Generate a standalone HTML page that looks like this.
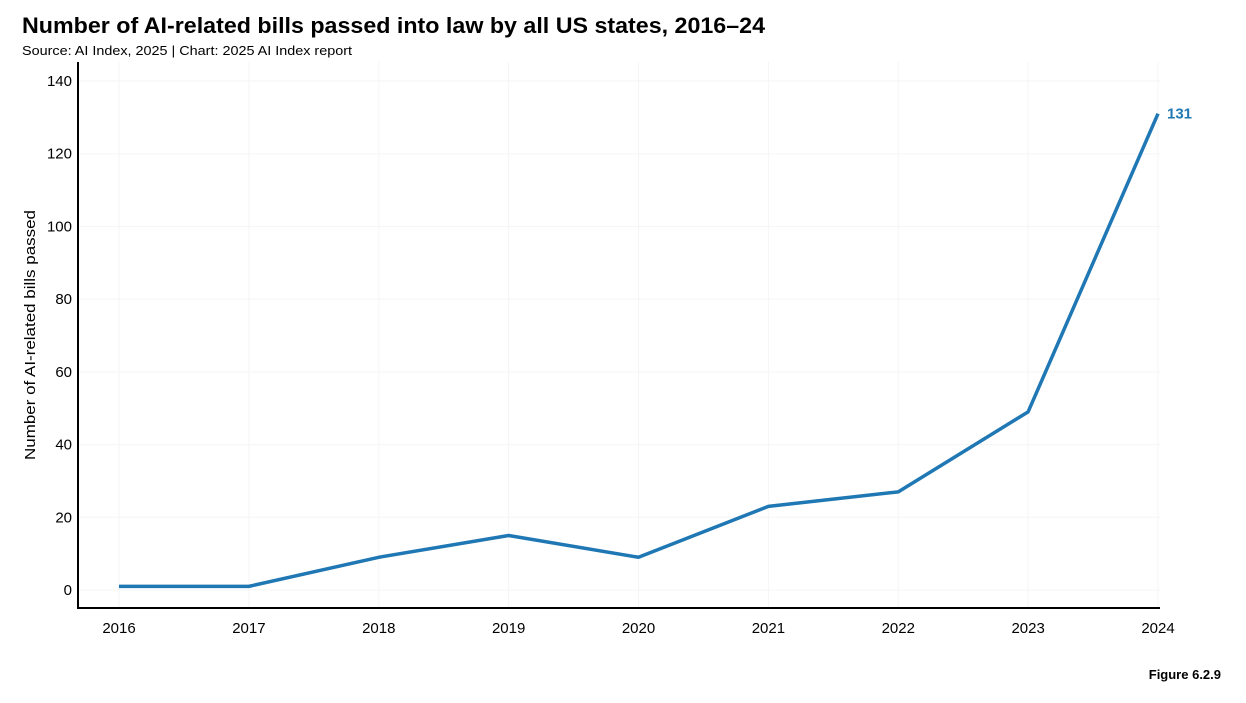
<!DOCTYPE html>
<html><head><meta charset="utf-8"><style>
body{margin:0;background:#fff;width:1246px;height:698px;overflow:hidden;font-family:"Liberation Sans",sans-serif}
</style></head><body>
<svg width="1246" height="698" xmlns="http://www.w3.org/2000/svg">
<text x="22" y="33" font-size="22" font-weight="bold" fill="#000" textLength="743" lengthAdjust="spacingAndGlyphs">Number of AI-related bills passed into law by all US states, 2016–24</text>
<text x="22" y="55" font-size="13" fill="#000" textLength="330" lengthAdjust="spacingAndGlyphs">Source: AI Index, 2025 | Chart: 2025 AI Index report</text>
<text transform="translate(35,335) rotate(-90)" text-anchor="middle" font-size="15" fill="#000" textLength="250" lengthAdjust="spacingAndGlyphs">Number of AI-related bills passed</text>
<text x="1221" y="679" text-anchor="end" font-size="13" font-weight="bold" fill="#000">Figure 6.2.9</text>
<g id="grid"></g><g id="axes"></g><g id="marks"></g>
</svg>
<script>
const years = [2016,2017,2018,2019,2020,2021,2022,2023,2024];
const bills = [1,1,9,15,9,23,27,49,131];
const yTicks = [0,20,40,60,80,100,120,140];
const NS="http://www.w3.org/2000/svg";
const x0=119,x1=1158,py0=590,py140=81;
function xs(i){return x0+(x1-x0)*i/(years.length-1);}
function ys(v){return py0+(py140-py0)*v/140;}
function mk(tag,attrs,parent){const e=document.createElementNS(NS,tag);for(const k in attrs)e.setAttribute(k,attrs[k]);document.getElementById(parent).appendChild(e);return e;}
yTicks.forEach(t=>{
  const g=mk('line',{x1:79,x2:1160,y1:ys(t),y2:ys(t),stroke:'#f5f5f5','stroke-width':1},'grid');
  
  
  const l=mk('text',{x:72,y:ys(t)+5,'text-anchor':'end','font-size':15,fill:'#000'},'axes');
  l.textContent=t;
  
  
});
years.forEach((yr,i)=>{
  const g=mk('line',{x1:xs(i),x2:xs(i),y1:62,y2:607,stroke:'#f5f5f5','stroke-width':1},'grid');
  
  
  const l=mk('text',{x:xs(i),y:633,'text-anchor':'middle','font-size':15,fill:'#000'},'axes');
  l.textContent=yr;
  
  
});
const ya=mk('line',{x1:78,x2:78,y1:62,y2:609,stroke:'#000','stroke-width':2},'axes');


const xa=mk('line',{x1:77,x2:1160,y1:608,y2:608,stroke:'#000','stroke-width':2},'axes');


const pts=bills.map((v,i)=>xs(i)+','+ys(v)).join(' ');
const pl=mk('polyline',{points:pts,fill:'none',stroke:'#1f77b4','stroke-width':3.5,'stroke-linejoin':'round'},'marks');


const last=bills.length-1;
const lab=mk('text',{x:xs(last)+9,y:ys(bills[last])+5,'font-size':15,'font-weight':'bold',fill:'#1f77b4'},'marks');
lab.textContent=bills[last];


</script>
</body></html>
